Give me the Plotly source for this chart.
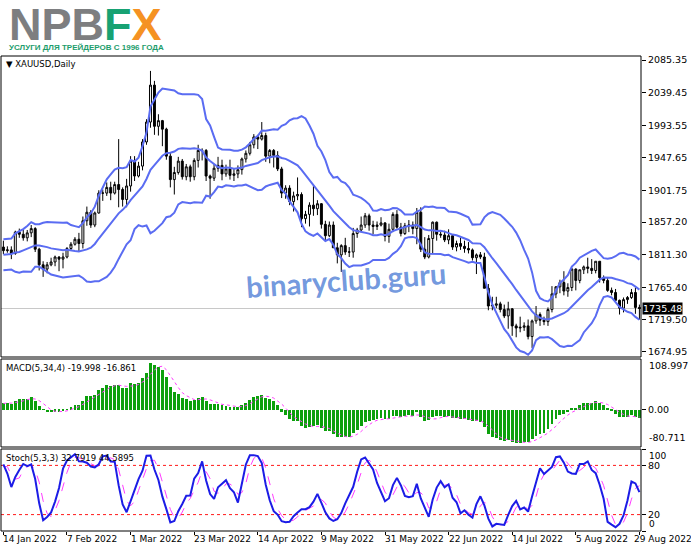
import numpy as np
import pandas as pd
import plotly.graph_objects as go

# ---------------- data ----------------
tick_labels = ["14 Jan 2022", "7 Feb 2022", "1 Mar 2022", "23 Mar 2022", "14 Apr 2022",
               "9 May 2022", "31 May 2022", "22 Jun 2022", "14 Jul 2022", "5 Aug 2022", "29 Aug 2022"]
tick_bars = [0, 16, 32, 48, 64, 80, 96, 112, 128, 144, 160]

opens = [1822,1817,1818,1813,1843,1840,1835,1842,1848,1819,
         1797,1791,1797,1801,1808,1805,1808,1820,1826,1833,
         1827,1859,1871,1853,1870,1898,1898,1906,1898,1910,
         1903,1889,1908,1943,1922,1936,1970,1998,2050,1992,
         2000,1988,1950,1917,1927,1943,1921,1935,1921,1944,
         1958,1958,1922,1919,1933,1937,1925,1932,1923,1925,
         1931,1946,1954,1966,1977,1974,1979,1950,1958,1951,
         1932,1898,1905,1886,1894,1896,1862,1868,1881,1876,
         1883,1854,1838,1853,1821,1811,1824,1815,1815,1841,
         1846,1853,1866,1853,1851,1853,1856,1837,1847,1868,
         1850,1841,1852,1853,1848,1871,1819,1808,1834,1857,
         1840,1839,1832,1838,1822,1827,1823,1820,1818,1807,
         1811,1808,1764,1739,1740,1742,1734,1725,1735,1711,
         1708,1709,1711,1696,1718,1727,1719,1717,1734,1756,
         1766,1772,1760,1765,1791,1775,1790,1794,1792,1789,
         1802,1779,1775,1761,1758,1747,1736,1748,1751,1758,
         1737]
highs = [1831,1823,1823,1845,1848,1847,1846,1853,1850,1821,
         1802,1801,1807,1810,1809,1814,1822,1829,1836,1842,
         1865,1879,1874,1872,1902,1903,1913,1914,1914,1974,
         1906,1918,1950,1950,1942,1974,2002,2070,2056,2009,
         2001,1990,1955,1935,1949,1946,1939,1938,1947,1966,
         1961,1960,1924,1939,1949,1945,1938,1945,1933,1937,
         1948,1958,1970,1981,1980,1998,1983,1960,1960,1957,
         1935,1909,1909,1900,1920,1899,1873,1885,1909,1888,
         1884,1859,1858,1858,1828,1826,1835,1822,1849,1849,
         1865,1870,1869,1859,1858,1864,1857,1855,1871,1874,
         1856,1856,1860,1858,1877,1878,1836,1839,1858,1858,
         1845,1845,1847,1840,1831,1835,1831,1829,1820,1813,
         1815,1814,1770,1752,1752,1745,1741,1745,1736,1714,
         1724,1716,1720,1720,1739,1730,1724,1737,1767,1767,
         1776,1788,1771,1793,1792,1790,1796,1807,1805,1802,
         1802,1782,1779,1765,1763,1748,1751,1753,1763,1765,
         1741]
lows = [1812,1814,1805,1811,1835,1831,1830,1836,1815,1789,
        1780,1785,1795,1795,1788,1792,1806,1817,1824,1815,
        1820,1852,1849,1850,1869,1887,1894,1888,1896,1878,
        1879,1878,1900,1915,1920,1930,1966,1990,1980,1979,
        1964,1945,1906,1896,1924,1917,1916,1914,1916,1934,
        1944,1915,1890,1915,1928,1916,1921,1917,1915,1919,
        1924,1941,1951,1961,1960,1972,1942,1940,1934,1929,
        1891,1890,1881,1872,1888,1850,1855,1851,1866,1867,
        1848,1832,1836,1821,1799,1787,1811,1808,1807,1835,
        1843,1849,1845,1840,1846,1851,1830,1828,1843,1848,
        1837,1839,1843,1840,1826,1815,1805,1806,1812,1831,
        1835,1829,1826,1818,1816,1818,1814,1813,1803,1784,
        1805,1764,1733,1733,1736,1730,1722,1707,1697,1695,
        1702,1704,1692,1680,1714,1711,1712,1711,1730,1750,
        1757,1754,1752,1760,1761,1771,1784,1785,1784,1785,
        1772,1771,1759,1754,1746,1727,1730,1742,1749,1728,
        1720]
closes = [1817,1818,1813,1843,1840,1835,1842,1848,1819,1797,
          1791,1797,1801,1808,1805,1808,1820,1826,1833,1827,
          1859,1871,1853,1870,1898,1898,1906,1898,1910,1903,
          1889,1908,1943,1922,1936,1970,1998,2050,1992,2000,
          1988,1950,1917,1927,1943,1921,1935,1921,1944,1958,
          1958,1922,1919,1933,1937,1925,1932,1923,1925,1931,
          1946,1954,1966,1977,1974,1979,1950,1958,1951,1932,
          1898,1905,1886,1894,1896,1862,1868,1881,1876,1883,
          1854,1838,1853,1821,1811,1824,1815,1815,1841,1846,
          1853,1866,1853,1851,1853,1856,1837,1847,1868,1850,
          1841,1852,1853,1848,1871,1819,1808,1834,1857,1840,
          1839,1832,1838,1822,1827,1823,1820,1818,1807,1811,
          1808,1764,1739,1740,1742,1734,1725,1735,1711,1708,
          1709,1711,1696,1718,1727,1719,1717,1734,1756,1766,
          1772,1760,1765,1791,1775,1790,1794,1792,1789,1802,
          1779,1775,1761,1758,1747,1736,1748,1751,1758,1737,
          1735.48]

# closes/highs/lows of the bars just before the visible range (indicator warm-up)
warm_closes = [1785,1774,1782,1768,1783,1779,1785,1783,1775,1782,1787,1771,1777,1799,1804,
               1791,1789,1803,1809,1811,1811,1811,1805,1815,1829,1801,1814,1810,1789,1797,
               1802,1819,1826,1821]
warm_highs = [1815,1830,1810,1800,1804,1822,1829,1829]
warm_lows = [1799,1808,1782,1783,1791,1800,1818,1812]

price_ticks = [2085.35, 2039.45, 1993.55, 1947.65, 1901.75, 1857.20, 1811.30, 1765.40, 1719.50, 1674.95]
macd_max, macd_min = 108.997, -80.711
stoch_levels = [80, 20]
last_price = 1735.48

main_title = "XAUUSD,Daily"
macd_title = "MACD(5,34,4) -19.998 -16.861"
stoch_title = "Stoch(5,3,3) 32.7919 44.5895"
watermark = "binaryclub.guru"

# ---------------- indicators ----------------
nw = len(warm_closes)
n = len(closes)
c_all = pd.Series(warm_closes + closes, dtype=float)
h_all = pd.Series([np.nan] * (nw - len(warm_highs)) + warm_highs + highs, dtype=float)
l_all = pd.Series([np.nan] * (nw - len(warm_lows)) + warm_lows + lows, dtype=float)

bb_n = 14
mid = c_all.rolling(bb_n).mean()
sd = c_all.rolling(bb_n).std(ddof=0)
upper = (mid + 2 * sd).iloc[nw:].values
lower = (mid - 2 * sd).iloc[nw:].values
mid = mid.iloc[nw:].values

ema_f = c_all.ewm(span=5, adjust=False).mean()
ema_s = c_all.ewm(span=34, adjust=False).mean()
macd = ema_f - ema_s
signal = macd.rolling(4).mean()
macd = macd.iloc[nw:].values
signal = signal.iloc[nw:].values

ll = l_all.rolling(5).min()
hh = h_all.rolling(5).max()
k = 100 * (c_all - ll).rolling(3).sum() / (hh - ll).rolling(3).sum()
d = k.rolling(3).mean()
k = k.iloc[nw:].values
d = d.iloc[nw:].values

xs = list(range(n))

# ---------------- figure ----------------
W, H = 691, 549
ml, mr, mt, mb = 1, 50, 56, 18
ph = H - mt - mb  # 475


def pdom(top_px, bot_px):
    return [(H - mb - bot_px) / ph, (H - mb - top_px) / ph]


dom_main = pdom(56, 357)
dom_macd = pdom(359, 447)
dom_stoch = pdom(449, 531)

fig = go.Figure()

fig.add_trace(go.Candlestick(
    x=xs, open=opens, high=highs, low=lows, close=closes,
    increasing=dict(line=dict(color="black", width=1), fillcolor="white"),
    decreasing=dict(line=dict(color="black", width=1), fillcolor="black"),
    whiskerwidth=0, yaxis="y", xaxis="x", hoverinfo="skip"))

band_color = "#5a6cf2"
for series in (upper, mid, lower):
    fig.add_trace(go.Scatter(x=xs, y=series, mode="lines", yaxis="y",
                             line=dict(color=band_color, width=2), hoverinfo="skip"))

fig.add_trace(go.Bar(x=xs, y=macd, yaxis="y2", width=0.72,
                     marker=dict(color="#0ca00c", line=dict(width=0)), hoverinfo="skip"))
fig.add_trace(go.Scatter(x=xs, y=signal, mode="lines", yaxis="y2",
                         line=dict(color="#ff3cff", width=1, dash="dot"), hoverinfo="skip"))

fig.add_trace(go.Scatter(x=xs, y=d, mode="lines", yaxis="y3",
                         line=dict(color="#ff3cff", width=1, dash="dash"), hoverinfo="skip"))
fig.add_trace(go.Scatter(x=xs, y=k, mode="lines", yaxis="y3",
                         line=dict(color="#1c1ce6", width=2), hoverinfo="skip"))

shapes = []
for dom in (dom_main, dom_macd, dom_stoch):
    shapes.append(dict(type="rect", xref="paper", yref="paper", x0=0, x1=1, y0=dom[0], y1=dom[1],
                       line=dict(color="black", width=1), layer="above"))
shapes.append(dict(type="line", xref="paper", yref="y", x0=0, x1=1, y0=last_price, y1=last_price,
                   line=dict(color="#c8c8c8", width=1), layer="below"))
for lv in stoch_levels:
    shapes.append(dict(type="line", xref="paper", yref="y3", x0=0, x1=1, y0=lv, y1=lv,
                       line=dict(color="#ff1a1a", width=1, dash="dot"), layer="below"))

base_font = dict(family="DejaVu Sans", size=9, color="black")
axis_font = dict(family="DejaVu Sans", size=9.5, color="black")
ann = []
# logo
ann.append(dict(xref="paper", yref="paper", x=0, y=1 + 31 / ph, xanchor="left", yanchor="middle",
                xshift=6, showarrow=False,
                text="<b><span style='color:#7d7e80'>NPB</span><span style='color:#17a273'>F</span>"
                     "<span style='color:#f59223'>X</span></b>",
                font=dict(family="Liberation Sans", size=45)))
ann.append(dict(xref="paper", yref="paper", x=0, y=1 + 8 / ph, xanchor="left", yanchor="middle",
                xshift=6, showarrow=False, text="<b>УСЛУГИ ДЛЯ ТРЕЙДЕРОВ С 1996 ГОДА</b>",
                font=dict(family="Liberation Sans Narrow, Liberation Sans", size=8, color="#1d9d6c")))
# pane titles
ann.append(dict(xref="paper", yref="paper", x=0, y=dom_main[1], xanchor="left", yanchor="top",
                xshift=3, yshift=-1, showarrow=False, text="▼ " + main_title,
                font=dict(family="DejaVu Sans", size=8.5, color="black")))
ann.append(dict(xref="paper", yref="paper", x=0, y=dom_macd[1], xanchor="left", yanchor="top",
                xshift=3, yshift=-2, showarrow=False, text=macd_title,
                font=dict(family="DejaVu Sans", size=8.5, color="black")))
ann.append(dict(xref="paper", yref="paper", x=0, y=dom_stoch[1], xanchor="left", yanchor="top",
                xshift=3, yshift=-2, showarrow=False, text=stoch_title,
                font=dict(family="DejaVu Sans", size=8.5, color="black")))
# MACD max / min labels (scale edges, kept inside the pane like the terminal does)
ann.append(dict(xref="paper", yref="y2", x=1, y=macd_max, xanchor="left", yanchor="top", xshift=6,
                yshift=1, showarrow=False, text=f"{macd_max:.3f}", font=axis_font))
ann.append(dict(xref="paper", yref="y2", x=1, y=macd_min, xanchor="left", yanchor="bottom", xshift=6,
                yshift=2, showarrow=False, text=f"{macd_min:.3f}", font=axis_font))
# stoch 100 / 0 labels
ann.append(dict(xref="paper", yref="y3", x=1, y=100, xanchor="left", yanchor="top", xshift=6,
                showarrow=False, text="100", font=base_font))
ann.append(dict(xref="paper", yref="y3", x=1, y=0, xanchor="left", yanchor="bottom", xshift=6,
                showarrow=False, text="0", font=base_font))
# current price box
ann.append(dict(xref="paper", yref="y", x=1, y=last_price, xanchor="left", yanchor="middle",
                xshift=1, showarrow=False, text=f"{last_price:.2f}", bgcolor="black",
                font=dict(family="DejaVu Sans", size=9.5, color="white"), borderpad=0))
# date labels
for j, (tb, tl) in enumerate(zip(tick_bars, tick_labels)):
    ann.append(dict(xref="x", yref="paper", x=tb, y=0, xanchor="left", yanchor="top",
                    xshift=-7 if j == len(tick_bars) - 1 else -2, yshift=-1, showarrow=False,
                    text=tl, font=base_font))
# watermark
ann.append(dict(xref="paper", yref="paper", x=345 / (W - ml - mr), y=(H - mb - 279) / ph,
                xanchor="center", yanchor="middle", textangle=-4, showarrow=False,
                text="<b>" + watermark + "</b>",
                font=dict(family="Lato", size=29, color="rgba(98,140,218,0.9)")))

fig.update_layout(
    width=W, height=H, margin=dict(l=ml, r=mr, t=mt, b=mb),
    paper_bgcolor="white", plot_bgcolor="white", showlegend=False,
    font=base_font, bargap=0,
    xaxis=dict(range=[-0.6, 160.4], anchor="y3", showgrid=False, zeroline=False, showline=False,
               showticklabels=False, ticks="outside", ticklen=3, tickcolor="black",
               tickvals=tick_bars, rangeslider=dict(visible=False), fixedrange=True),
    yaxis=dict(domain=dom_main, range=[1667.2, 2091.0], side="right", anchor="x",
               tickvals=price_ticks, ticktext=[f"{v:.2f}" for v in price_ticks],
               ticks="outside", ticklen=4, tickcolor="black", showgrid=False, zeroline=False,
               tickfont=axis_font, fixedrange=True),
    yaxis2=dict(domain=dom_macd, range=[macd_min, macd_max], side="right", anchor="x",
                tickvals=[0.0], ticktext=["0.00"],
                ticks="outside", ticklen=4, tickcolor="black", showgrid=False, zeroline=False,
                tickfont=axis_font, fixedrange=True),
    yaxis3=dict(domain=dom_stoch, range=[0, 100], side="right", anchor="x",
                tickvals=stoch_levels + [100, 0], ticktext=["80", "20", "", ""],
                ticks="outside", ticklen=4, tickcolor="black", showgrid=False, zeroline=False,
                tickfont=axis_font, fixedrange=True),
    shapes=shapes, annotations=ann,
)

fig.write_html("out.html", config={"displayModeBar": False},
               post_script="document.body.style.margin='0px';document.body.style.overflow='hidden';")
